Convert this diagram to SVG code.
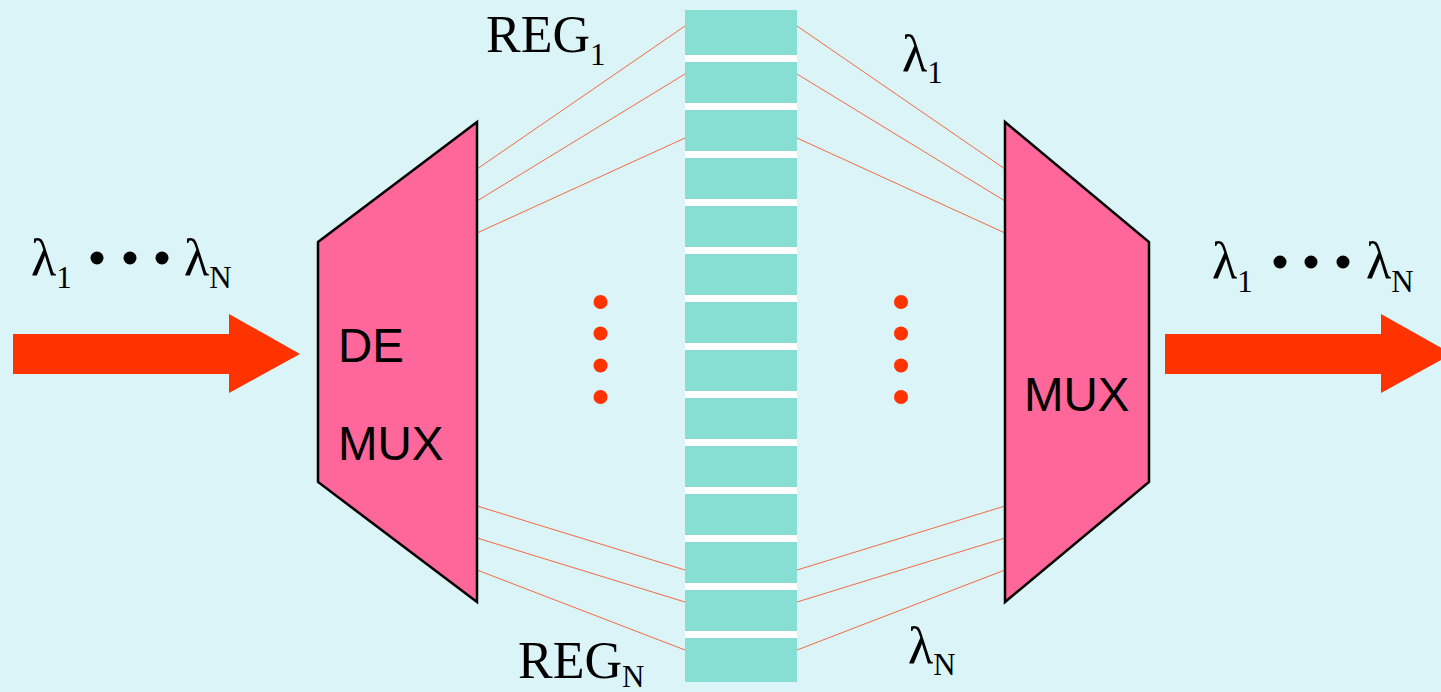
<svg xmlns="http://www.w3.org/2000/svg" width="1441" height="692" viewBox="0 0 1441 692">
<style>
.bg{fill:#DBF4F7}
.box{fill:#FF6699;stroke:#000;stroke-width:2.5;stroke-linejoin:miter}
.cell{fill:#86DFD2}
.lnk{stroke:#F46A42;stroke-width:1;fill:none}
.arrow{fill:#FF3300}
.dot{fill:#FF3300}
.bul{fill:#000}
.serif{font-family:"Liberation Serif","Times New Roman",serif;fill:#000}
.sans{font-family:"Liberation Sans",Arial,sans-serif;font-size:47.5px;fill:#000}
.big{font-size:52px}
.sub{font-size:31px}
</style>
<rect class="bg" x="0" y="0" width="1441" height="692"/>

<g id="connectors">
  <line class="lnk" x1="477" y1="169" x2="685" y2="26"/>
  <line class="lnk" x1="477" y1="201" x2="685" y2="74"/>
  <line class="lnk" x1="477" y1="233" x2="685" y2="138"/>
  <line class="lnk" x1="477" y1="506" x2="685" y2="570"/>
  <line class="lnk" x1="477" y1="538" x2="685" y2="602"/>
  <line class="lnk" x1="477" y1="570" x2="685" y2="650"/>
  <line class="lnk" x1="797" y1="26" x2="1005" y2="169"/>
  <line class="lnk" x1="797" y1="74" x2="1005" y2="201"/>
  <line class="lnk" x1="797" y1="138" x2="1005" y2="233"/>
  <line class="lnk" x1="797" y1="570" x2="1005" y2="506"/>
  <line class="lnk" x1="797" y1="602" x2="1005" y2="538"/>
  <line class="lnk" x1="797" y1="650" x2="1005" y2="570"/>
</g>

<g id="input-arrow">
  <polygon class="arrow" points="13,334 229,334 229,314 300,354 229,393 229,374 13,374"/>
  <text class="serif big" x="31" y="275">λ<tspan class="sub" dy="13">1</tspan></text>
  <circle class="bul" cx="97" cy="258" r="6.5"/>
  <circle class="bul" cx="130" cy="258" r="6.5"/>
  <circle class="bul" cx="162" cy="258" r="6.5"/>
  <text class="serif big" x="184" y="275">λ<tspan class="sub" dy="13">N</tspan></text>
</g>

<g id="demux">
  <polygon class="box" points="318,242 477,122 477,602 318,482"/>
  <text class="sans" x="338" y="362">DE</text>
  <text class="sans" x="338" y="460">MUX</text>
</g>

<g id="registers">
  <rect x="685" y="10" width="112" height="672" fill="#FFFFFF"/>
  <rect class="cell" x="685" y="10" width="112" height="45"/>
  <rect class="cell" x="685" y="62" width="112" height="41"/>
  <rect class="cell" x="685" y="110" width="112" height="41"/>
  <rect class="cell" x="685" y="158" width="112" height="41"/>
  <rect class="cell" x="685" y="206" width="112" height="41"/>
  <rect class="cell" x="685" y="254" width="112" height="41"/>
  <rect class="cell" x="685" y="302" width="112" height="41"/>
  <rect class="cell" x="685" y="350" width="112" height="41"/>
  <rect class="cell" x="685" y="398" width="112" height="41"/>
  <rect class="cell" x="685" y="446" width="112" height="41"/>
  <rect class="cell" x="685" y="494" width="112" height="41"/>
  <rect class="cell" x="685" y="542" width="112" height="41"/>
  <rect class="cell" x="685" y="590" width="112" height="41"/>
  <rect class="cell" x="685" y="638" width="112" height="44"/>
</g>

<g id="reg-labels">
  <text class="serif big" x="486" y="52">REG<tspan class="sub" dy="13">1</tspan></text>
  <text class="serif big" x="518" y="678">REG<tspan class="sub" dy="9">N</tspan></text>
</g>

<g id="dots-left">
  <circle class="dot" cx="600.5" cy="302" r="7"/>
  <circle class="dot" cx="600.5" cy="333.5" r="7"/>
  <circle class="dot" cx="600.5" cy="365.5" r="7"/>
  <circle class="dot" cx="600.5" cy="397" r="7"/>
</g>
<g id="dots-right">
  <circle class="dot" cx="901" cy="302" r="7"/>
  <circle class="dot" cx="901" cy="333.5" r="7"/>
  <circle class="dot" cx="901" cy="365.5" r="7"/>
  <circle class="dot" cx="901" cy="397" r="7"/>
</g>

<g id="lambda-labels">
  <text class="serif big" x="902" y="71">λ<tspan class="sub" dy="12">1</tspan></text>
  <text class="serif big" x="908" y="663">λ<tspan class="sub" dy="12">N</tspan></text>
</g>

<g id="mux">
  <polygon class="box" points="1005,122 1149,242 1149,482 1005,602"/>
  <text class="sans" x="1024" y="411">MUX</text>
</g>

<g id="output-arrow">
  <polygon class="arrow" points="1165,334 1381,334 1381,314 1452,354 1381,393 1381,374 1165,374"/>
  <text class="serif big" x="1212" y="278">λ<tspan class="sub" dy="14">1</tspan></text>
  <circle class="bul" cx="1280" cy="262" r="6.5"/>
  <circle class="bul" cx="1311" cy="262" r="6.5"/>
  <circle class="bul" cx="1343" cy="262" r="6.5"/>
  <text class="serif big" x="1366" y="278">λ<tspan class="sub" dy="14">N</tspan></text>
</g>
</svg>
